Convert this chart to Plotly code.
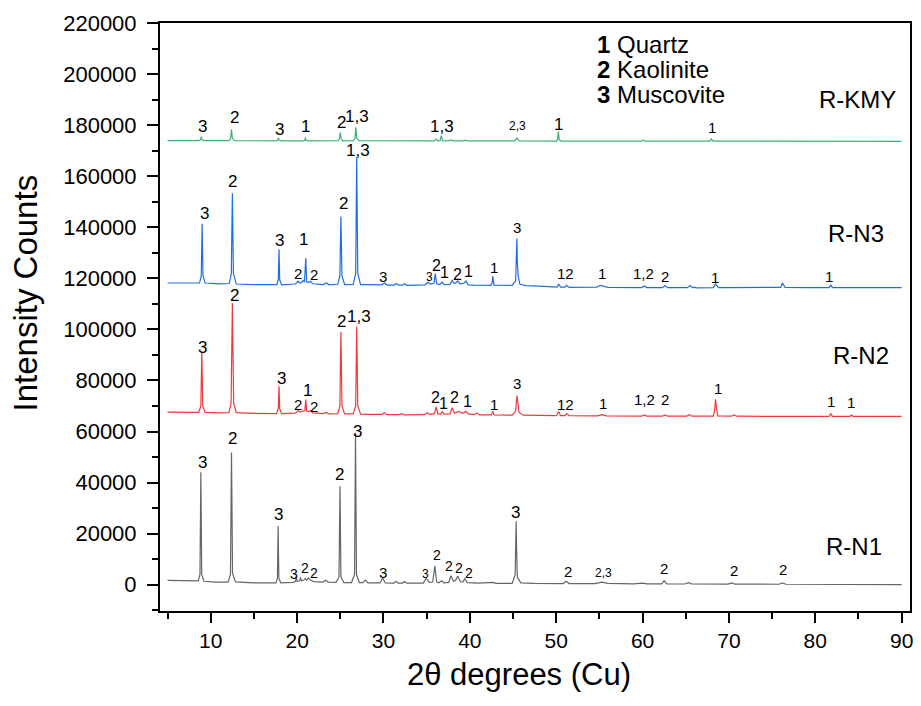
import plotly.graph_objects as go

# ---------------- data (2theta, counts) ----------------
n1_pts = [(5.0,1700),(6.5,1500),(8.0,1300),(8.55,1500),(8.75,4000),(8.85,44000),(8.95,4000),(9.2,1300),
 (10.5,1000),(12.0,1000),(12.28,4000),(12.4,51800),(12.52,4500),(12.85,1100),(15.0,700),(17.55,650),
 (17.72,2500),(17.8,23000),(17.88,2500),(18.1,700),(19.5,900),(19.8,1200),(19.9,3000),(20.0,1300),
 (20.3,1500),(20.4,2800),(20.5,1500),(20.8,1800),(20.95,2500),(21.1,1700),(21.3,2600),(21.45,2000),
 (21.9,1200),(23.0,1000),(23.3,1700),(23.6,1000),(24.5,900),(24.85,3000),(24.96,38500),(25.07,3000),
 (25.4,800),(26.3,800),(26.65,4000),(26.76,59500),(26.87,4000),(27.2,800),(27.6,800),(27.9,1800),
 (28.2,700),(29.6,650),(29.9,2600),(30.2,650),(31.2,600),(31.45,1300),(31.7,600),(32.2,600),(32.45,1200),
 (32.7,550),(34.6,600),(34.95,2400),(35.3,900),(35.7,1000),(35.95,7300),(36.15,1100),(36.4,700),
 (36.75,1500),(37.0,700),(37.55,900),(37.8,3500),(38.1,1300),(38.35,1600),(38.6,3400),(38.9,1200),
 (39.2,1000),(39.4,2300),(39.7,800),(41.0,600),(42.7,900),(43.0,500),(44.9,500),(45.25,4000),
 (45.36,24800),(45.42,13000),(45.5,3000),(45.9,700),(47.5,500),(50.8,400),(51.15,1300),(51.5,400),
 (53.0,350),(54.5,400),(55.3,1000),(56.0,500),(57.5,350),(59.0,300),(60.0,600),(60.5,300),(62.2,300),
 (62.5,1500),(62.8,300),(64.9,250),(65.3,800),(65.7,250),(69.9,200),(70.3,700),(70.7,200),(72.2,250),
 (72.5,450),(72.8,200),(75.8,150),(76.2,700),(76.6,150),(80.0,100),(85.0,50),(90.0,0)]

n2_pts = [(5.0,67600),(7.0,67500),(8.6,67500),(8.85,70000),(8.96,91100),(9.07,70000),(9.35,67500),
 (11.0,67300),(12.1,67400),(12.35,71000),(12.5,110300),(12.65,71000),(12.95,67400),(15.0,67100),
 (17.6,67000),(17.82,69000),(17.9,77700),(17.98,69000),(18.2,67000),(19.8,67200),(20.15,68300),
 (20.3,67600),(20.5,67800),(20.7,67700),(20.9,68200),(21.0,72500),(21.1,68000),(21.35,67800),
 (21.55,68300),(21.8,67300),(23.0,67000),(23.4,67500),(23.7,66900),(24.7,67000),(24.95,70000),
 (25.07,99000),(25.19,70000),(25.5,66900),(26.5,66900),(26.78,70000),(26.9,101200),(27.02,70000),
 (27.35,66800),(28.0,66700),(29.8,66700),(30.1,67400),(30.4,66600),(31.8,66600),(32.1,67000),
 (32.4,66500),(34.7,66600),(35.1,67300),(35.4,66700),(35.9,67000),(36.1,69600),(36.3,66900),
 (36.6,66800),(36.8,67700),(37.0,66800),(37.7,66900),(37.95,69300),(38.2,67200),(38.5,67500),
 (38.75,67900),(39.0,67200),(39.3,67300),(39.55,67900),(39.8,66900),(40.5,66600),(40.8,67300),
 (41.1,66500),(42.5,66500),(42.65,68000),(42.8,66500),(44.9,66400),(45.3,68000),(45.45,74100),
 (45.55,71000),(45.7,67500),(46.2,66400),(48.0,66300),(50.0,66200),(50.3,67800),(50.5,66200),
 (51.0,66200),(51.25,67000),(51.5,66200),(54.8,66100),(55.3,66600),(55.8,66100),(59.9,66000),
 (60.2,66500),(60.5,66000),(62.3,66000),(62.6,66500),(62.9,66000),(65.1,66000),(65.4,66600),
 (65.7,66000),(68.2,66000),(68.35,68500),(68.45,72600),(68.55,69500),(68.7,66100),(70.3,66000),
 (70.6,66500),(70.9,66000),(73.5,66000),(73.8,66200),(74.1,65950),(81.6,65900),(81.8,67000),
 (82.0,65900),(84.0,65900),(84.2,66500),(84.4,65900),(90.0,65900)]

n3_pts = [(5.0,118200),(7.0,118100),(8.7,118200),(8.9,121000),(9.0,141400),(9.1,121000),(9.35,118200),
 (11.0,117900),(12.15,118000),(12.38,122000),(12.5,153400),(12.62,122000),(12.95,117800),(15.0,117600),
 (17.65,117600),(17.82,119500),(17.9,131400),(17.98,119500),(18.2,117500),(19.8,117800),(20.1,118900),
 (20.3,118200),(20.5,118400),(20.7,119200),(20.85,118500),(21.0,128000),(21.1,118700),(21.35,118400),
 (21.55,118900),(21.8,117900),(23.0,117600),(23.4,118200),(23.7,117500),(24.7,117700),(24.95,121000),
 (25.07,144300),(25.19,121000),(25.5,117600),(26.5,117700),(26.78,122000),(26.9,167500),(27.02,122000),
 (27.35,117600),(28.0,117600),(29.8,117500),(30.1,118200),(30.4,117400),(31.2,117400),(31.5,117900),
 (31.8,117400),(32.2,117400),(32.45,117900),(32.7,117300),(34.8,117500),(35.15,118500),(35.45,117800),
 (35.85,118100),(36.0,121900),(36.15,118000),(36.5,117600),(36.8,118500),(37.0,117600),(37.7,117700),
 (37.95,119200),(38.2,118000),(38.4,118300),(38.6,119000),(38.85,117900),(39.3,118100),(39.55,119000),
 (39.8,117500),(40.5,117400),(42.45,117300),(42.6,118500),(42.65,120900),(42.8,117400),(44.9,117300),
 (45.3,119000),(45.45,135600),(45.5,126000),(45.6,121000),(45.8,117700),(46.5,117200),(48.0,117000),
 (50.1,116600),(50.3,117800),(50.5,116600),(51.0,116600),(51.2,117300),(51.5,116500),(54.7,116600),
 (55.1,117300),(55.6,116800),(56.0,116500),(59.9,116400),(60.2,117000),(60.5,116400),(62.3,116400),
 (62.6,117200),(62.9,116400),(65.2,116400),(65.5,117200),(65.8,116300),(66.0,116600),(66.2,116300),
 (68.2,116400),(68.35,117300),(68.45,117800),(68.6,117200),(68.8,116400),(70.3,116400),(72.0,116400),
 (76.0,116500),(76.2,118200),(76.5,116500),(79.0,116400),(81.6,116400),(81.8,117400),(82.0,116400),
 (90.0,116400)]

kmy_pts = [(5.0,174000),(8.6,174000),(8.8,174300),(8.9,175600),(9.0,174300),(9.2,174000),(12.1,174000),
 (12.3,174800),(12.4,178400),(12.5,174800),(12.75,174000),(17.6,173900),(17.75,174300),(17.82,175100),
 (17.9,174300),(18.1,173900),(20.75,173900),(20.9,174200),(20.95,175300),(21.0,174200),(21.2,173900),
 (24.75,174000),(24.9,174800),(25.0,177200),(25.1,174800),(25.3,173900),(26.5,174000),(26.7,175000),
 (26.8,179200),(26.9,175000),(27.15,174000),(35.9,173900),(36.1,174600),(36.3,173900),(36.55,174000),
 (36.7,175900),(36.85,174000),(37.5,173900),(37.8,174300),(38.1,173900),(39.3,173900),(39.5,174200),
 (39.7,173900),(45.2,173900),(45.45,175000),(45.7,173900),(50.05,173800),(50.15,174500),(50.25,177600),
 (50.35,174300),(50.6,173800),(59.9,173800),(60.1,174300),(60.3,173800),(67.8,173800),(67.95,174700),
 (68.1,174000),(68.3,173800),(90.0,173700)]

series_names = ["R-N1", "R-N2", "R-N3", "R-KMY"]
series_pts = [n1_pts, n2_pts, n3_pts, kmy_pts]
series_colors = ["#666666", "#f03a3a", "#1f6fe0", "#3cb371"]

# peak labels: (text, 2theta, counts, size)
peak_labels = [
 # R-KMY
 ("3",9.0,179600,17),("2",12.69,183000,17),("3",17.99,178500,17),("1",20.92,179600,17),
 ("2",25.14,181100,17),("1,3",26.92,183500,17),("1,3",36.76,179600,17),("2,3",45.52,179600,12),
 ("1",50.29,180300,17),("1",68.05,179300,15),
 # R-N3
 ("3",9.23,145400,17),("2",12.54,158000,17),("3",17.99,134900,17),("1",20.76,135200,17),
 ("2",20.07,121900,15),("2",21.91,121600,15),("2",25.34,149500,17),("1,3",26.99,170200,17),
 ("3",29.99,120900,15),("3",35.3,120600,12),("2",36.15,125100,16),("1",37.07,122500,16),
 ("2",38.6,121600,16),("1",39.8,122900,16),("1",42.84,124400,15),("3",45.41,139900,15),
 ("12",51.1,121800,15),("1",55.33,122100,15),("1,2",60.14,121800,15),("2",62.56,120800,15),
 ("1",68.4,120500,15),("1",81.59,120800,15),
 # R-N2
 ("3",9.0,93100,17),("2",12.69,113300,17),("3",18.15,80700,17),("1",21.22,76100,17),
 ("2",20.07,70500,15),("2",21.91,70000,15),("2",25.14,103200,17),("1,3",27.19,105200,17),
 ("2",36.03,73500,16),("1",36.99,70900,16),("2",38.22,73300,16),("1",39.68,71900,16),
 ("1",42.76,70500,15),("3",45.41,78700,15),("12",51.03,70500,15),("1",55.44,70900,15),
 ("1,2",60.17,72500,15),("2",62.56,72500,15),("1",68.71,76800,15),("1",81.78,71900,15),
 ("1",84.17,71300,15),
 # R-N1
 ("3",9.0,48000,17),("2",12.46,57200,17),("3",17.88,27400,17),("3",19.69,4300,14),
 ("2",20.96,6700,14),("2",22.0,4500,14),("2",24.96,43100,17),("3",26.99,60100,17),
 ("3",29.99,4700,15),("3",34.88,4000,12),("2",36.22,11500,14),("2",37.64,7200,14),
 ("2",38.8,6700,14),("2",39.95,4500,14),("3",45.26,28400,17),("2",51.33,5300,15),
 ("2,3",55.44,4500,12),("2",62.45,6300,15),("2",70.55,5600,15),("2",76.32,5900,15),
]

# sample name labels: (text, 2theta, counts)
sample_labels = [("R-KMY",84.86,190000),("R-N3",84.66,137500),("R-N2",85.24,89800),("R-N1",84.47,15000)]

legend_lines = ["<b>1</b> Quartz", "<b>2</b> Kaolinite", "<b>3</b> Muscovite"]

x_title = "2θ degrees (Cu)"
y_title = "Intensity Counts"

FONT = "Liberation Sans, Arial, sans-serif"

fig = go.Figure()
for name, pts, col in zip(series_names, series_pts, series_colors):
    xs = [p[0] for p in pts]
    ys = [p[1] for p in pts]
    fig.add_trace(go.Scatter(x=xs, y=ys, mode="lines", name=name,
                             line=dict(color=col, width=1.2), showlegend=False))

ann = []
for t, x, y, s in peak_labels:
    ann.append(dict(text=t, x=x, y=y, xref="x", yref="y", showarrow=False,
                    xanchor="center", yanchor="middle", font=dict(size=s, color="black", family=FONT)))
for t, x, y in sample_labels:
    ann.append(dict(text=t, x=x, y=y, xref="x", yref="y", showarrow=False,
                    xanchor="center", yanchor="middle", font=dict(size=24, color="black", family=FONT)))
for i, t in enumerate(legend_lines):
    ann.append(dict(text=t, x=0.5803, y=0.9626 - i * 0.0425, xref="paper", yref="paper",
                    showarrow=False, xanchor="left", yanchor="middle",
                    font=dict(size=24, color="black", family=FONT)))
ann.append(dict(text=x_title, x=0.478, y=-0.108, xref="paper", yref="paper", showarrow=False,
                xanchor="center", yanchor="middle", font=dict(size=31, color="black", family=FONT)))
ann.append(dict(text=y_title, x=-0.18, y=0.54, xref="paper", yref="paper", showarrow=False,
                textangle=-90, xanchor="center", yanchor="middle",
                font=dict(size=33, color="black", family=FONT)))

fig.update_layout(
    width=921, height=706,
    margin=dict(l=160, r=8, t=23, b=95),
    paper_bgcolor="white", plot_bgcolor="white",
    annotations=ann,
    font=dict(family=FONT, color="black"),
)
fig.update_xaxes(range=[4.12, 90.97], tick0=0, dtick=10, ticks="outside", ticklen=10, tickwidth=2,
                 tickcolor="black", showline=True, linewidth=2, linecolor="black", mirror=True,
                 showgrid=False, zeroline=False, tickfont=dict(size=21, family=FONT),
                 ticklabelstandoff=0,
                 minor=dict(tick0=0, dtick=5, ticks="outside", ticklen=6, tickwidth=2, tickcolor="black"))
fig.update_yaxes(range=[-10340, 220100], tick0=0, dtick=20000, ticks="outside", ticklen=11, tickwidth=2,
                 tickcolor="black", showline=True, linewidth=2, linecolor="black", mirror=True,
                 showgrid=False, zeroline=False, tickformat="d", tickfont=dict(size=22, family=FONT),
                 ticklabelstandoff=6,
                 minor=dict(tick0=0, dtick=10000, ticks="outside", ticklen=6, tickwidth=2, tickcolor="black"))

fig.write_html("out.html")
